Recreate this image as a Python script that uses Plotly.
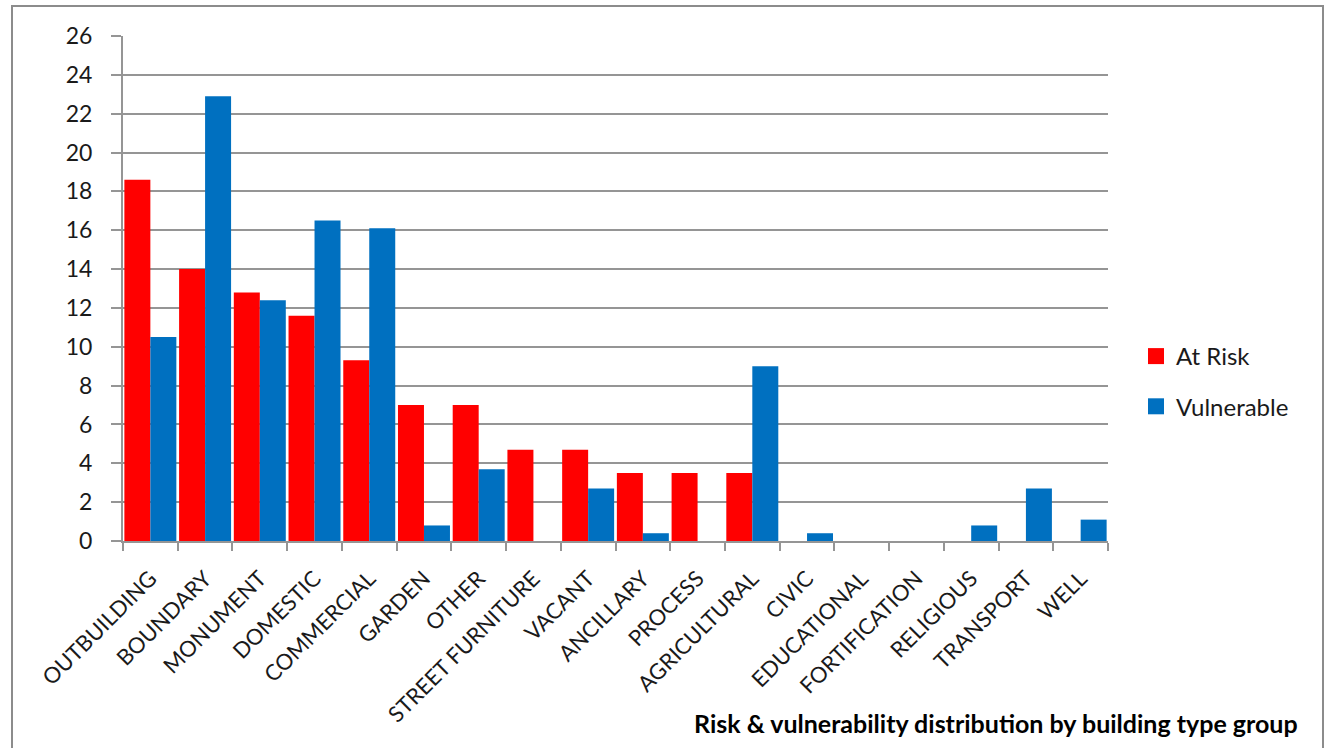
import plotly.graph_objects as go

# Building type groups and their share (%) of assets at risk / vulnerable
categories = [
    "OUTBUILDING", "BOUNDARY", "MONUMENT", "DOMESTIC", "COMMERCIAL", "GARDEN",
    "OTHER", "STREET FURNITURE", "VACANT", "ANCILLARY", "PROCESS", "AGRICULTURAL",
    "CIVIC", "EDUCATIONAL", "FORTIFICATION", "RELIGIOUS", "TRANSPORT", "WELL",
]
at_risk = [18.6, 14.0, 12.8, 11.6, 9.3, 7.0, 7.0, 4.7, 4.7, 3.5, 3.5, 3.5,
           0, 0, 0, 0, 0, 0]
vulnerable = [10.5, 22.9, 12.4, 16.5, 16.1, 0.8, 3.7, 0, 2.7, 0.4, 0, 9.0,
              0.4, 0, 0, 0.8, 2.7, 1.1]

y_ticks = list(range(0, 27, 2))

RED = "#FF0000"
BLUE = "#0070C0"
GRID = "#959595"
TEXT = "#1a1a1a"
FONT = "Lato"

W, H = 1326, 748
ML, MR, MT, MB = 123, 218, 36, 207
plot_w = W - ML - MR
plot_h = H - MT - MB


def px_to_paper_x(px):
    return (px - ML) / plot_w


def px_to_paper_y(py):
    return (H - MB - py) / plot_h


fig = go.Figure()
fig.add_bar(x=categories, y=at_risk, name="At Risk", marker_color=RED,
            marker_line_width=0, showlegend=False)
fig.add_bar(x=categories, y=vulnerable, name="Vulnerable", marker_color=BLUE,
            marker_line_width=0, showlegend=False)

# Legend entries with larger square swatches
for name, color, grp in [("At Risk", RED, "a"), ("Vulnerable", BLUE, "b")]:
    fig.add_scatter(x=[None], y=[None], mode="markers", name=name,
                    legendgroup=grp,
                    marker=dict(symbol="square", size=16, color=color))

fig.update_layout(
    width=W, height=H, autosize=False,
    margin=dict(l=ML, r=MR, t=MT, b=MB, pad=0),
    paper_bgcolor="white", plot_bgcolor="white",
    font=dict(family=FONT, color=TEXT, size=22),
    barmode="group", bargap=0.05, bargroupgap=0,
    showlegend=True,
    legend=dict(
        x=px_to_paper_x(1136), y=px_to_paper_y(334),
        xanchor="left", yanchor="top",
        font=dict(family=FONT, size=24, color=TEXT),
        traceorder="grouped", tracegroupgap=16,
        itemsizing="trace", bgcolor="rgba(0,0,0,0)",
    ),
    xaxis=dict(
        type="category", categoryorder="array", categoryarray=categories,
        range=[-0.5, len(categories) - 0.5],
        tickangle=-45, tickfont=dict(size=22, family=FONT, color=TEXT),
        ticks="outside", ticklen=8, tickwidth=2, tickcolor=GRID,
        tickson="boundaries", ticklabelstandoff=14,
        showline=True, linecolor=GRID, linewidth=2,
        showgrid=False, zeroline=False,
    ),
    yaxis=dict(
        range=[0, 26], tickmode="array", tickvals=y_ticks,
        ticktext=[str(v) for v in y_ticks],
        tickfont=dict(size=23, family=FONT, color=TEXT),
        ticks="outside", ticklen=10, tickwidth=2, tickcolor=GRID,
        ticklabelstandoff=14,
        showgrid=True, gridcolor=GRID, gridwidth=2,
        showline=True, linecolor=GRID, linewidth=2, zeroline=False,
    ),
    annotations=[
        dict(
            text="<b>Risk & vulnerability distribution by building type group</b>",
            xref="paper", yref="paper",
            x=px_to_paper_x(1300), y=px_to_paper_y(723),
            xanchor="right", yanchor="middle", showarrow=False,
            font=dict(family=FONT, size=25, color="#000000"),
        )
    ],
    shapes=[
        # chart frame
        dict(type="rect", xref="paper", yref="paper", layer="below",
             x0=px_to_paper_x(12), x1=px_to_paper_x(1323),
             y0=px_to_paper_y(H + 20), y1=px_to_paper_y(6),
             line=dict(color="#8c8c8c", width=2), fillcolor="rgba(0,0,0,0)")
    ],
)

fig.write_html("out.html")
